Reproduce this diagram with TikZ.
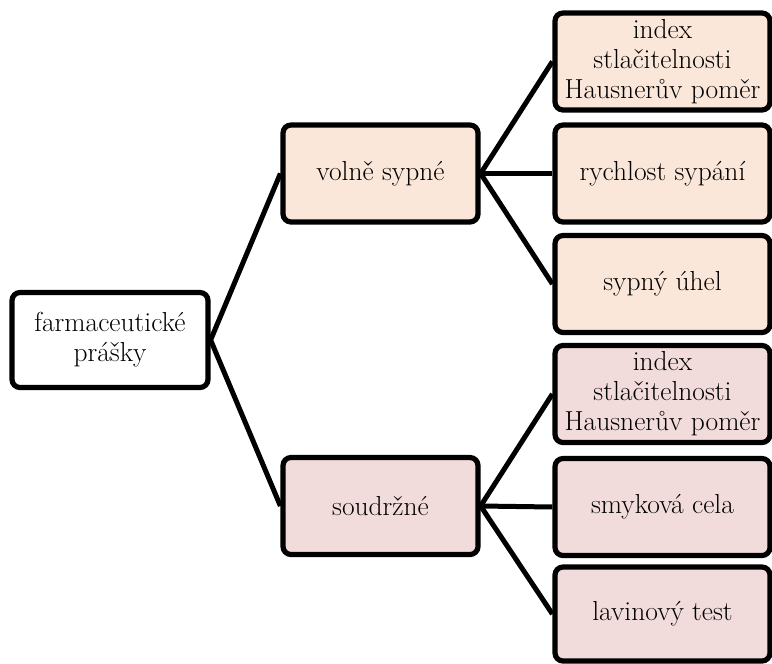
\documentclass[tikz,border=0pt]{standalone}
\usepackage{fontspec}
\definecolor{peach}{HTML}{FBE7D9}
\definecolor{rose}{HTML}{F2DCDB}
\begin{document}
\begin{tikzpicture}[x=1pt,y=-1pt,
  box/.style={draw=black, line width=5.2pt, rounded corners=8pt, inner sep=0pt, align=center,
    font=\rmfamily\fontsize{27.5}{30}\selectfont},
  rootbox/.style={box, fill=white, minimum width=196pt, minimum height=95pt},
  midbox/.style={box, minimum width=195pt, minimum height=97pt},
  leafbox/.style={box, minimum width=215pt, minimum height=97pt},
  conn/.style={line width=5pt}]
\useasboundingbox (0,0) rectangle (772,664);
\node[rootbox] (root) at (110,340) {farmaceutické\\prášky};
\node[midbox, fill=peach] (v) at (380.5,173.5) {volně sypné};
\node[midbox, fill=rose] (s) at (380.5,506) {soudržné};
\node[leafbox, fill=peach] (v1) at (662.5,61.5) {index\\stlačitelnosti\\Hausnerův poměr};
\node[leafbox, fill=peach] (v2) at (662.5,173.5) {rychlost sypání};
\node[leafbox, fill=peach] (v3) at (662.5,284) {sypný úhel};
\node[leafbox, fill=rose] (s1) at (662.5,394) {index\\stlačitelnosti\\Hausnerův poměr};
\node[leafbox, fill=rose] (s2) at (662.5,507) {smyková cela};
\node[leafbox, fill=rose, minimum height=94pt] (s3) at (662.5,614) {lavinový test};
\draw[conn] (root.east) -- (v.west);
\draw[conn] (root.east) -- (s.west);
\draw[conn] (v.east) -- (v1.west);
\draw[conn] (v.east) -- (v2.west);
\draw[conn] (v.east) -- (v3.west);
\draw[conn] (s.east) -- (s1.west);
\draw[conn] (s.east) -- (s2.west);
\draw[conn] (s.east) -- (s3.west);
\end{tikzpicture}
\end{document}
